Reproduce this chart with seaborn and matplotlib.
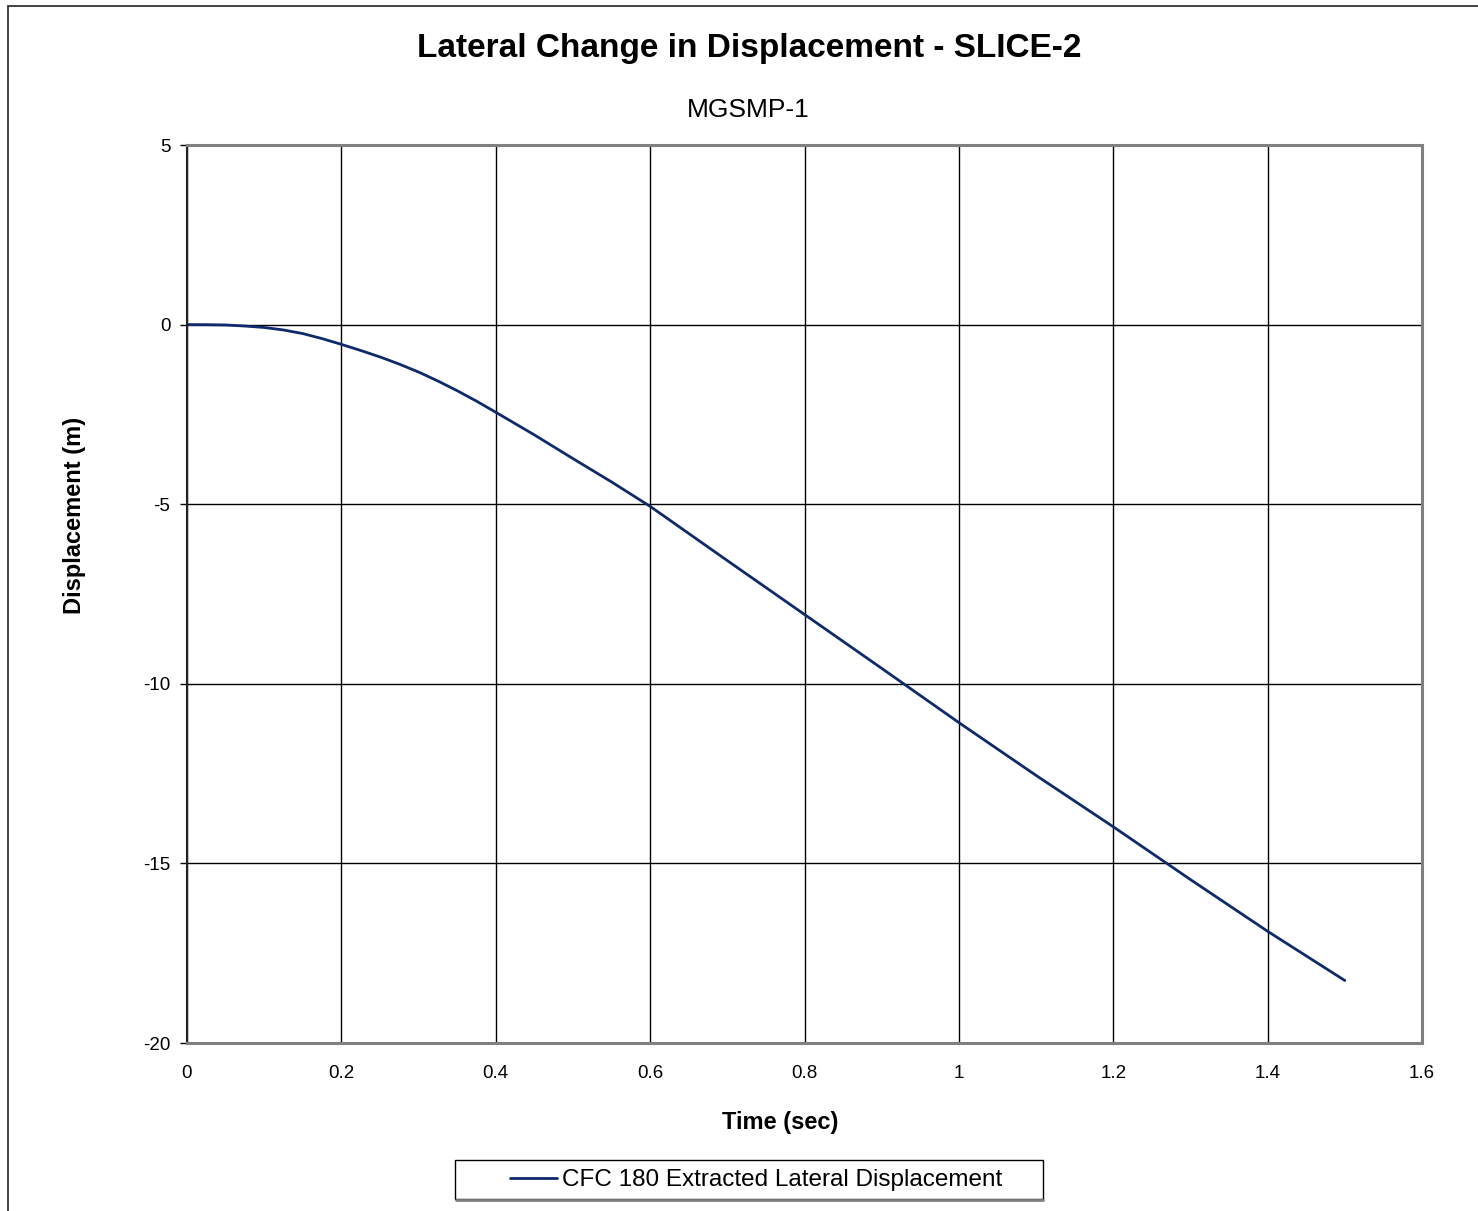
import matplotlib
matplotlib.use("Agg")
import matplotlib.pyplot as plt
from matplotlib.patches import Rectangle
import seaborn as sns
import pandas as pd

time_sec = [0.0, 0.025, 0.05, 0.075, 0.1, 0.125, 0.15, 0.175, 0.2, 0.225, 0.25,
            0.275, 0.3, 0.325, 0.35, 0.375, 0.4, 0.45, 0.5, 0.55,
            0.6, 0.7, 0.8, 0.9, 1.0, 1.1, 1.2, 1.3, 1.4, 1.5]
displacement = [0.0, -0.002, -0.01, -0.04, -0.08, -0.15, -0.25, -0.39, -0.55, -0.72,
                -0.9, -1.1, -1.32, -1.57, -1.84, -2.13, -2.44, -3.07,
                -3.73, -4.38, -5.06, -6.57, -8.07, -9.57, -11.08, -12.55, -13.98,
                -15.45, -16.89, -18.26]
series_name = "CFC 180 Extracted Lateral Displacement"
x_ticks = [0, 0.2, 0.4, 0.6, 0.8, 1, 1.2, 1.4, 1.6]
x_tick_labels = ["0", "0.2", "0.4", "0.6", "0.8", "1", "1.2", "1.4", "1.6"]
y_ticks = [5, 0, -5, -10, -15, -20]
y_tick_labels = ["5", "0", "-5", "-10", "-15", "-20"]

sns.set_theme(style="white")
plt.rcParams['font.family'] = ['Liberation Sans', 'DejaVu Sans']
plt.rcParams['text.color'] = 'black'
plt.rcParams['axes.labelcolor'] = 'black'
plt.rcParams['xtick.color'] = 'black'
plt.rcParams['ytick.color'] = 'black'

df = pd.DataFrame({"Time": time_sec, "Disp": displacement, "Series": series_name})

W, H = 1478, 1211
fig = plt.figure(figsize=(W / 100, H / 100), dpi=100)
ax = fig.add_axes([187 / W, 1 - 1043 / H, (1422 - 187) / W, (1043 - 145) / H])

sns.lineplot(data=df, x="Time", y="Disp", hue="Series", palette=["#0f2a6b"],
             linewidth=2.0, ax=ax, legend=False)

ax.set_xlim(0, 1.6)
ax.set_ylim(-20, 5)
ax.set_xticks(x_ticks)
ax.set_xticklabels(x_tick_labels)
ax.set_yticks(y_ticks)
ax.set_yticklabels(y_tick_labels)
ax.grid(True, color="black", linewidth=1.0)
ax.set_axisbelow(True)
ax.tick_params(axis="both", labelsize=13.5, colors="black")
ax.tick_params(axis="y", left=True, length=5, width=1, direction="out", pad=7)
ax.tick_params(axis="x", bottom=False, pad=10)

for side in ["top", "right", "bottom"]:
    ax.spines[side].set_color("#808080")
    ax.spines[side].set_linewidth(2.2)
ax.spines["left"].set_color("#222222")
ax.spines["left"].set_linewidth(1.5)

ax.set_xlabel("")
ax.set_ylabel("")
fig.text(780 / W, 1 - 1122 / H, "Time (sec)", ha="center", va="center",
         fontsize=17, fontweight="bold")
fig.text(74 / W, 1 - 515 / H, "Displacement (m)", ha="center", va="center",
         rotation=90, fontsize=17, fontweight="bold")

fig.text(749 / W, 1 - 48 / H, "Lateral Change in Displacement - SLICE-2",
         ha="center", va="center", fontsize=24, fontweight="bold")
fig.text(748 / W, 1 - 110 / H, "MGSMP-1", ha="center", va="center", fontsize=19)

# legend box
fig.patches.append(Rectangle((455 / W, 1 - 1199 / H), (1043 - 455) / W, 39 / H,
                             transform=fig.transFigure, facecolor="white",
                             edgecolor="black", linewidth=1.0))
fig.lines.append(plt.Line2D([456 / W, 1043 / W], [1 - 1199.5 / H, 1 - 1199.5 / H],
                            transform=fig.transFigure, color="#808080", linewidth=2.0))

line = ax.get_lines()[0]
leg = fig.legend([line], [series_name], loc="center left",
                 bbox_to_anchor=(510 / W, 1 - 1180 / H), fontsize=17.5,
                 frameon=False, handlelength=1.93, handletextpad=0.19,
                 borderpad=0, borderaxespad=0)

fig.patches.append(Rectangle((8 / W, -0.02), 1.1, 1 - 6 / H + 0.02,
                             transform=fig.transFigure, fill=False,
                             edgecolor="#222222", linewidth=1.2))

fig.savefig("out.png", dpi=100)
